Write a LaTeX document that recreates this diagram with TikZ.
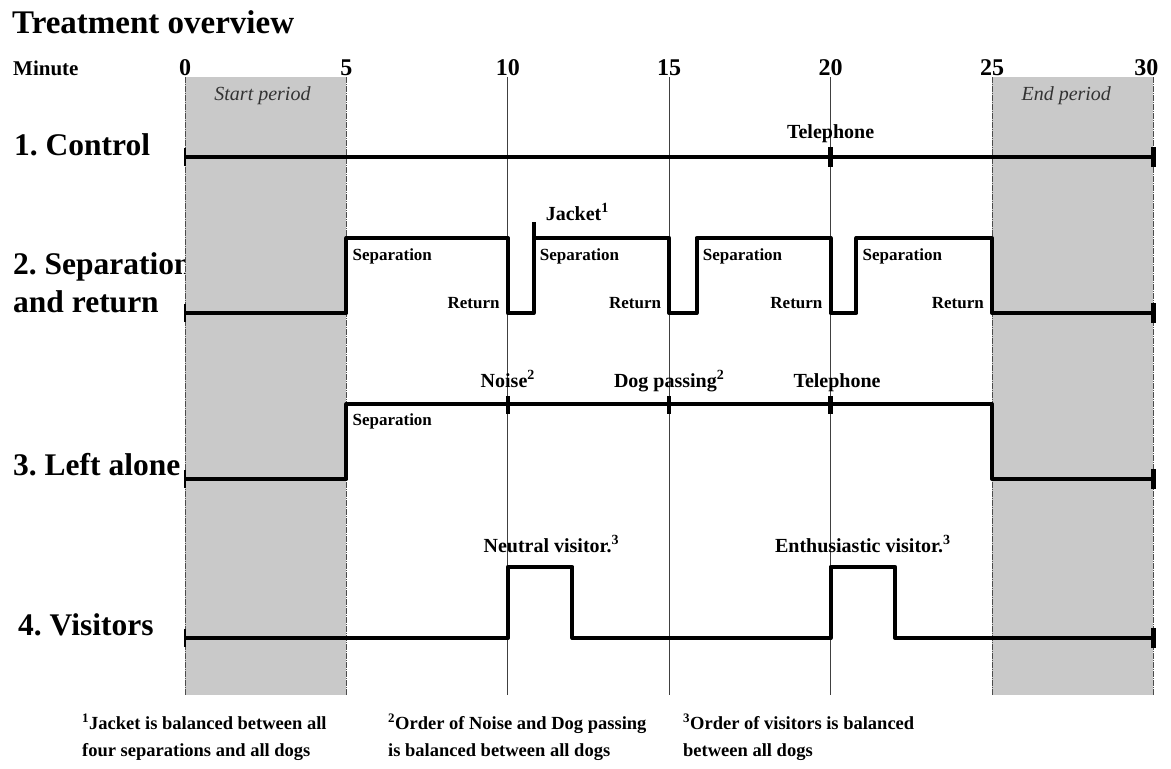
\documentclass[tikz,border=0pt]{standalone}
\usepackage{fontspec}
\setmainfont{Liberation Serif}
\usepackage{tikz}
\usetikzlibrary{calc}

\begin{document}
\begin{tikzpicture}[
  x=1pt, y=-1pt,
  every node/.style={inner sep=0pt},
  rowlabel/.style={anchor=base west,font=\fontsize{31.5}{34}\selectfont\bfseries},
  event/.style={anchor=base,font=\fontsize{20}{22}\selectfont\bfseries},
  phase/.style={font=\fontsize{17}{18}\selectfont\bfseries},
  minute/.style={anchor=base,font=\fontsize{24}{26}\selectfont\bfseries},
  period/.style={anchor=base,font=\fontsize{20}{22}\selectfont\itshape,text=black!80},
  note/.style={anchor=base west,align=left,font=\fontsize{18.5}{27}\selectfont\bfseries},
  timeline/.style={line width=4pt,line join=round},
  tickmark/.style={line width=4.5pt},
  starttick/.style={line width=2pt},
  band/.style={fill=black!21},
  bandedge/.style={line width=0.8pt,black!70,dash pattern=on 6pt off 1pt on 1pt off 1pt},
  gridline/.style={line width=0.9pt,black!75}
]
\useasboundingbox (0,0) rectangle (1171,769);

\node[anchor=base west,font=\fontsize{33}{36}\selectfont\bfseries] (title) at (12,33) {Treatment overview};
\node[anchor=base west,font=\fontsize{21}{22}\selectfont\bfseries] (minlbl) at (13,75) {Minute};

\node[rowlabel] (row1) at (14,155) {1.\ Control};
\node[rowlabel] (row2) at (13,274) {2.\ Separation};
\node[rowlabel] (row2b) at (13,312) {and return};
\node[rowlabel] (row3) at (13,475) {3.\ Left alone};
\node[rowlabel] (row4) at (18,635) {4.\ Visitors};

\begin{scope}[xshift=185pt, x=32.28pt] % minutes along x
  \fill[band] (0,77) rectangle (5,695);
  \fill[band] (25,77) rectangle (30,695);
  \foreach \t in {0,5,25,30}
    \draw[bandedge] (\t,77) -- (\t,695);
  \foreach \t in {10,15,20}
    \draw[gridline] (\t,77) -- (\t,695);

  \foreach \t in {0,5,...,25}
    \node[minute] (min\t) at (\t,75) {\t};
  \node[minute,xshift=-7pt] (min30) at (30,75) {30};

  \node[period] (start) at (2.4,100) {Start period};
  \node[period] (end) at (27.3,100) {End period};

  % 1. Control
  \draw[timeline] (0,157) -- (30,157);
  \foreach \t in {20,30}
    \draw[tickmark] (\t,147) -- (\t,167);
  \node[event] (tel1) at (20,138) {Telephone};

  % 2. Separation and return
  \draw[timeline] (0,313) -- (5,313) -- (5,238) -- (10,238) -- (10,313) -- (10.8,313)
    -- (10.8,238) -- (15,238) -- (15,313) -- (15.85,313) -- (15.85,238) -- (20,238)
    -- (20,313) -- (20.8,313) -- (20.8,238) -- (25,238) -- (25,313) -- (30,313);
  \draw[timeline] (10.8,238) -- (10.8,222);
  \draw[tickmark] (30,303) -- (30,323);
  \node[event,anchor=base west,xshift=12pt] (jacket) at (10.8,220) {Jacket\textsuperscript{1}};
  \foreach \s/\r [count=\i] in {5/10,10.8/15,15.85/20,20.8/25} {
    \node[phase,anchor=base west,xshift=6pt] (sep\i) at (\s,260) {Separation};
    \node[phase,anchor=base east,xshift=-8pt] (ret\i) at (\r,308) {Return};
  }

  % 3. Left alone
  \draw[timeline] (0,479) -- (5,479) -- (5,404) -- (25,404) -- (25,479) -- (30,479);
  \foreach \t in {10,15,20}
    \draw[tickmark] (\t,396) -- (\t,414);
  \draw[tickmark] (30,469) -- (30,489);
  \node[phase,anchor=base west,xshift=6pt] (sep5) at (5,425) {Separation};
  \node[event] (noise) at (10,387) {Noise\textsuperscript{2}};
  \node[event] (dog) at (15,387) {Dog passing\textsuperscript{2}};
  \node[event] (tel3) at (20.2,387) {Telephone};

  % 4. Visitors
  \draw[timeline] (0,638) -- (10,638) -- (10,567) -- (12,567) -- (12,638) -- (20,638)
    -- (20,567) -- (22,567) -- (22,638) -- (30,638);
  \draw[tickmark] (30,628) -- (30,648);
  \node[event] (neutral) at (11.35,552) {Neutral visitor.\textsuperscript{3}};
  \node[event] (enth) at (21,552) {Enthusiastic visitor.\textsuperscript{3}};

  \foreach \y in {157,313,479,638}
    \draw[starttick] (0,\y-9) -- (0,\y+9);
\end{scope}

% base anchor sits on the last line here
\node[note] (fn1) at (82,756) {\textsuperscript{1}Jacket is balanced between all\\four separations and all dogs};
\node[note] (fn2) at (388,756) {\textsuperscript{2}Order of Noise and Dog passing\\is balanced between all dogs};
\node[note] (fn3) at (683,756) {\textsuperscript{3}Order of visitors is balanced\\between all dogs};
\end{tikzpicture}
\end{document}
